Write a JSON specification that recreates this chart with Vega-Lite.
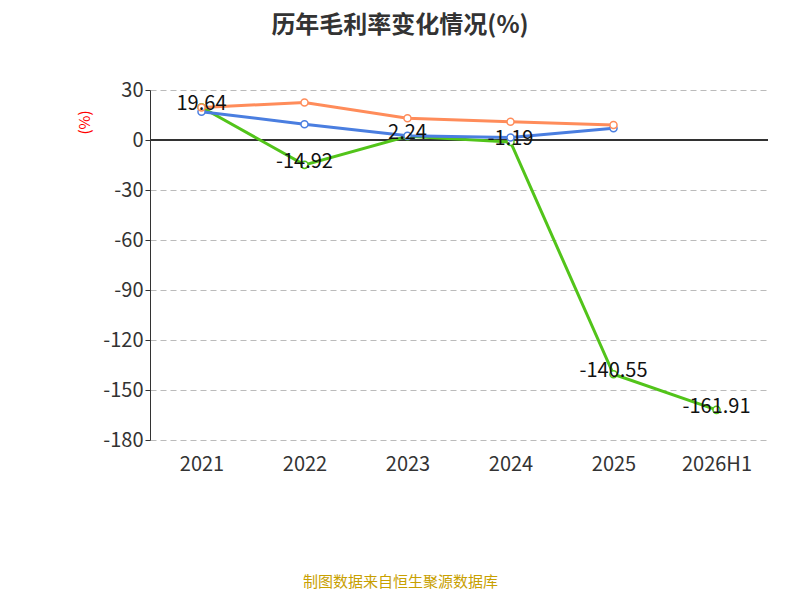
{
  "$schema": "https://vega.github.io/schema/vega-lite/v6.json",
  "width": 618,
  "height": 350,
  "autosize": {"type": "none"},
  "padding": {"left": 150, "top": 90, "right": 32, "bottom": 160},
  "background": "white",
  "title": {"text": "历年毛利率变化情况(%)", "fontSize": 24, "fontWeight": "bold", "color": "#333", "font": "Noto Sans CJK SC", "offset": 42, "dx": -59},
  "config": {"font": "Noto Sans CJK SC", "view": {"stroke": null},
    "locale": {"number": {"decimal": ".", "thousands": ",", "grouping": [3], "currency": ["", ""], "minus": "-"}}},
  "data": {"values": [
    {"year": "2021", "series": "公司毛利率", "value": 19.64},
    {"year": "2022", "series": "公司毛利率", "value": -14.92},
    {"year": "2023", "series": "公司毛利率", "value": 2.24},
    {"year": "2024", "series": "公司毛利率", "value": -1.19},
    {"year": "2025", "series": "公司毛利率", "value": -140.55},
    {"year": "2026H1", "series": "公司毛利率", "value": -161.91},
    {"year": "2021", "series": "行业均值", "value": 17.0},
    {"year": "2022", "series": "行业均值", "value": 9.5},
    {"year": "2023", "series": "行业均值", "value": 2.5},
    {"year": "2024", "series": "行业均值", "value": 1.5},
    {"year": "2025", "series": "行业均值", "value": 7.0},
    {"year": "2021", "series": "行业中位数", "value": 19.5},
    {"year": "2022", "series": "行业中位数", "value": 22.5},
    {"year": "2023", "series": "行业中位数", "value": 13.0},
    {"year": "2024", "series": "行业中位数", "value": 11.0},
    {"year": "2025", "series": "行业中位数", "value": 9.0}
  ]},
  "encoding": {
    "x": {"field": "year", "type": "nominal", "sort": null,
      "scale": {"type": "point", "padding": 0.5},
      "axis": {"title": "制图数据来自恒生聚源数据库", "titleColor": "#c8a000", "titleFontSize": 15, "titleFontWeight": "normal", "titlePadding": 100, "titleX": 250,
        "labelAngle": 0, "labelFontSize": 20, "labelColor": "#333", "labelPadding": 14, "domain": false, "ticks": false}},
    "y": {"field": "value", "type": "quantitative",
      "scale": {"domain": [-180, 30], "nice": false},
      "axis": {"values": [30, 0, -30, -60, -90, -120, -150, -180], "title": "(%)", "titleColor": "red", "titleFontSize": 15, "titleFontWeight": "normal", "titlePadding": 10, "titleAnchor": "end", "titleY": 20,
        "labelFontSize": 20, "labelColor": "#333", "gridDash": [6, 4], "gridColor": "#bbb", "domainColor": "#333", "tickColor": "#333"}}
  },
  "layer": [
    {"mark": {"type": "rule", "color": "#333"}, "encoding": {"y": {"datum": 0}, "x": null}},
    {"mark": {"type": "line", "strokeWidth": 3},
      "encoding": {"color": {"field": "series", "type": "nominal",
        "scale": {"domain": ["公司毛利率", "行业均值", "行业中位数"], "range": ["#52c41a", "#4a7ee0", "#ff8c5a"]}, "legend": null}}},
    {"mark": {"type": "point", "filled": false, "fill": "white", "fillOpacity": 1, "size": 50, "strokeWidth": 1.5, "opacity": 1},
      "encoding": {"stroke": {"field": "series", "type": "nominal",
        "scale": {"domain": ["公司毛利率", "行业均值", "行业中位数"], "range": ["#52c41a", "#4a7ee0", "#ff8c5a"]},
        "legend": {"orient": "none", "legendX": -25, "legendY": 432, "direction": "horizontal", "title": null,
          "labelFontSize": 20, "labelColor": "#333", "symbolType": "circle", "symbolSize": 300, "symbolFillColor": "white", "symbolStrokeWidth": 2, "columnPadding": 28}}}},
    {"transform": [{"filter": "datum.series === '公司毛利率'"}],
      "mark": {"type": "text", "fontSize": 20, "color": "#111", "dy": -3},
      "encoding": {"text": {"field": "value", "type": "quantitative", "format": ".2f"}}}
  ]
}
